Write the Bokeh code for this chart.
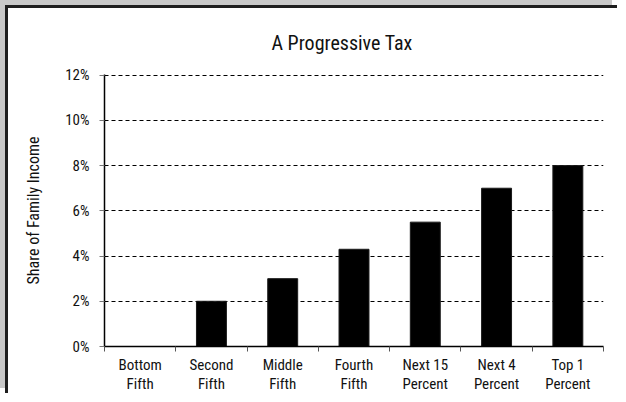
from bokeh.plotting import figure
from bokeh.models import FixedTicker, ColumnDataSource
from bokeh.embed import file_html
from bokeh.resources import INLINE

categories = ["Bottom\nFifth", "Second\nFifth", "Middle\nFifth", "Fourth\nFifth",
              "Next 15\nPercent", "Next 4\nPercent", "Top 1\nPercent"]
share = [0.0, 2.0, 3.0, 4.3, 5.5, 7.0, 8.0]
y_ticks = [0, 2, 4, 6, 8, 10, 12]
y_labels = ["0%", "2%", "4%", "6%", "8%", "10%", "12%"]
title_text = "A Progressive Tax"
y_title = "Share of Family Income"

FONT = "'Liberation Sans Narrow', 'Roboto Condensed', 'DejaVu Sans Condensed', sans-serif"

pos = list(range(len(categories)))
bounds = [i - 0.5 for i in range(len(categories) + 1)]

src = ColumnDataSource(dict(x=pos, top=share))

p = figure(width=612, height=388, output_backend="svg", toolbar_location=None,
           x_range=(-0.5, len(categories) - 0.5), y_range=(0, 12.03),
           min_border_left=96, min_border_right=17, min_border_top=66, min_border_bottom=49)

p.vbar(x="x", top="top", width=0.42, bottom=0, source=src,
       fill_color="#000000", line_color="#1a1a1a", line_width=1)

p.title.text = title_text
p.title.text_font = FONT
p.title.text_font_size = "20px"
p.title.text_font_style = "normal"
p.title.text_color = "#111111"
p.title.align = "left"
p.title.vertical_align = "bottom"
p.title.offset = 167
p.title.standoff = 40

p.outline_line_color = None
p.background_fill_color = "white"
p.border_fill_color = "white"

# x axis
p.xaxis.ticker = FixedTicker(ticks=pos, minor_ticks=bounds)
p.xaxis.major_label_overrides = {i: c for i, c in enumerate(categories)}
p.xaxis.major_tick_out = 0
p.xaxis.major_tick_in = 0
p.xaxis.minor_tick_out = 5
p.xaxis.minor_tick_in = 0
p.xaxis.minor_tick_line_color = "#555555"
p.xaxis.axis_line_color = "#000000"
p.xaxis.axis_line_width = 1.5
p.xaxis.major_label_text_font = FONT
p.xaxis.major_label_text_font_size = "15px"
p.xaxis.major_label_text_color = "#111111"
p.xaxis.major_label_text_line_height = 1.1
p.xaxis.major_label_standoff = 4
p.xaxis.major_label_orientation = "horizontal"

# y axis
p.yaxis.ticker = FixedTicker(ticks=y_ticks, minor_ticks=[])
p.yaxis.major_label_overrides = {t: l for t, l in zip(y_ticks, y_labels)}
p.yaxis.major_tick_out = 5
p.yaxis.major_tick_in = 0
p.yaxis.major_tick_line_color = "#777777"
p.yaxis.axis_line_color = "#000000"
p.yaxis.axis_line_width = 1.5
p.yaxis.major_label_text_font = FONT
p.yaxis.major_label_text_font_size = "15px"
p.yaxis.major_label_text_color = "#111111"
p.yaxis.major_label_standoff = 10
p.yaxis.axis_label = y_title
p.yaxis.axis_label_text_font = FONT
p.yaxis.axis_label_text_font_size = "16px"
p.yaxis.axis_label_text_font_style = "normal"
p.yaxis.axis_label_text_color = "#111111"
p.yaxis.axis_label_standoff = 19

p.xgrid.grid_line_color = None
p.ygrid.ticker = FixedTicker(ticks=y_ticks[1:])
p.ygrid.grid_line_color = "#000000"
p.ygrid.grid_line_dash = "4 3"
p.ygrid.grid_line_width = 1

p.styles = {"position": "relative", "top": "8px", "left": "8px",
            "box-shadow": "-3px -3px 0 0 #1e1e1e, -8px -8px 0 0 #c8c8c8"}

open("out.html", "w").write(file_html(p, INLINE))
